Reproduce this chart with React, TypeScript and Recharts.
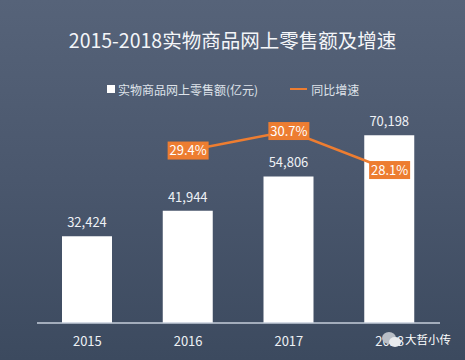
import React from "react";
import { ComposedChart, Bar, Line, XAxis, YAxis, LabelList } from "recharts";

const years = ["2015", "2016", "2017", "2018"];
const sales = [32424, 41944, 54806, 70198];
const growth: (number | null)[] = [null, 29.4, 30.7, 28.1];
const title = "2015-2018实物商品网上零售额及增速";
const salesName = "实物商品网上零售额(亿元)";
const growthName = "同比增速";

const data = years.map((y, i) => ({ year: y, sales: sales[i], growth: growth[i] }));

const FONT = '"Noto Sans CJK SC", "Noto Sans", sans-serif';
const ORANGE = "#ED7D31";

const GrowthLabel = (props: any) => {
  const { x, y, value } = props;
  if (value == null || x == null || y == null) return null;
  const w = 41;
  const h = 18;
  return (
    <g>
      <rect x={x - w / 2} y={y - h / 2} width={w} height={h} fill={ORANGE} />
      <text x={x} y={y + 4.5} textAnchor="middle" fill="#ffffff" fontSize={13} fontFamily={FONT}>
        {value.toFixed(1)}%
      </text>
    </g>
  );
};

export default function App() {
  return (
    <div
      style={{
        position: "fixed",
        left: 0,
        top: 0,
        width: 465,
        height: 360,
        background: "linear-gradient(180deg, #566379 0%, #4a576d 50%, #3c4a5f 100%)",
        fontFamily: FONT,
        overflow: "hidden",
      }}
    >
      <div
        style={{
          position: "absolute",
          left: 0,
          top: 27,
          width: 465,
          textAlign: "center",
          color: "#f4f6f9",
          fontSize: 19.5,
          lineHeight: "26px",
        }}
      >
        {title}
      </div>
      <div
        style={{
          position: "absolute",
          top: 80,
          left: 107,
          height: 18,
          display: "flex",
          alignItems: "center",
          color: "#dfe3ea",
          fontSize: 12,
          whiteSpace: "nowrap",
        }}
      >
        <span style={{ display: "inline-block", width: 8, height: 8, background: "#ffffff", marginRight: 3 }} />
        <span>{salesName}</span>
        <span style={{ display: "inline-block", width: 17, height: 2.5, background: ORANGE, marginLeft: 32, marginRight: 4 }} />
        <span>{growthName}</span>
      </div>
      <ComposedChart
        width={465}
        height={360}
        data={data}
        margin={{ top: 109, right: 25, bottom: 7, left: 37 }}
        style={{ position: "absolute", left: 0, top: 0 }}
      >
        <XAxis
          dataKey="year"
          tickLine={false}
          axisLine={{ stroke: "#c6cedb", strokeWidth: 1.5 }}
          tick={{ fill: "#eef1f5", fontSize: 13, fontFamily: FONT }}
          tickMargin={8}
          height={30}
        />
        <YAxis yAxisId="left" hide domain={[0, 80000]} />
        <YAxis yAxisId="right" orientation="right" hide domain={[17.9, 32.17]} allowDataOverflow />
        <Bar yAxisId="left" dataKey="sales" fill="#ffffff" barSize={50} isAnimationActive={false}>
          <LabelList
            dataKey="sales"
            position="top"
            offset={9}
            fill="#eef1f5"
            fontSize={13}
            fontFamily={FONT}
            formatter={(v: any) => Number(v).toLocaleString("en-US")}
          />
        </Bar>
        <Line
          yAxisId="right"
          dataKey="growth"
          stroke={ORANGE}
          strokeWidth={2.5}
          dot={false}
          activeDot={false}
          connectNulls={false}
          isAnimationActive={false}
        >
          <LabelList dataKey="growth" content={<GrowthLabel />} />
        </Line>
      </ComposedChart>
      <svg style={{ position: "absolute", left: 381, top: 330 }} width={22} height={20}>
        <ellipse cx={8} cy={8} rx={7} ry={6} fill="#b9bec6" />
        <ellipse cx={14} cy={12} rx={6} ry={5} fill="#e9ebee" />
      </svg>
      <div
        style={{
          position: "absolute",
          left: 405,
          top: 331,
          color: "#ffffff",
          fontSize: 11.5,
          lineHeight: "16px",
          whiteSpace: "nowrap",
        }}
      >
        大哲小传
      </div>
    </div>
  );
}
